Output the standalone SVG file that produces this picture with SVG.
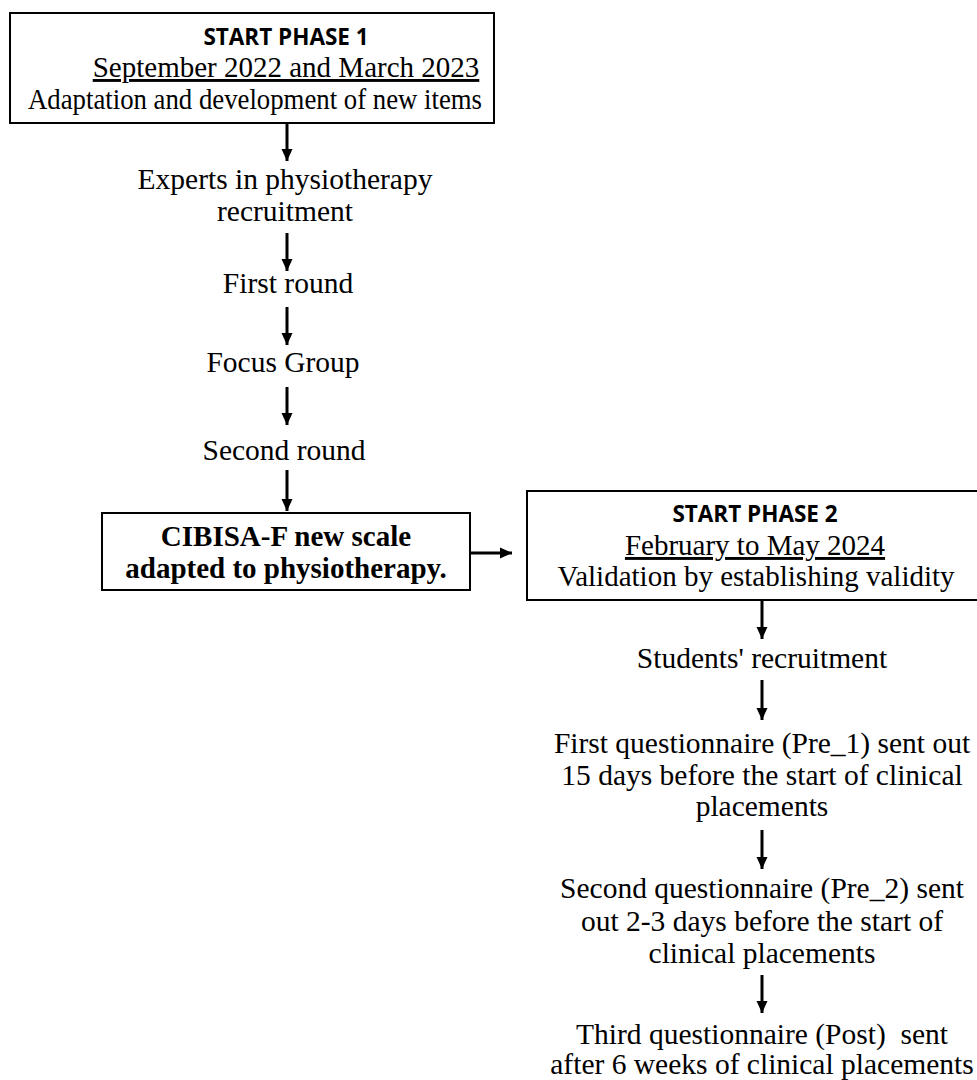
<svg xmlns="http://www.w3.org/2000/svg" width="977" height="1080" viewBox="0 0 977 1080">
<style>
.box{fill:#fff;stroke:#000;stroke-width:2}
.h{font-family:"Open Sans","Liberation Sans",sans-serif;font-weight:bold;font-size:22.5px;text-anchor:middle;fill:#000}
.t{font-family:"Liberation Serif","Times New Roman",serif;font-size:29.5px;text-anchor:middle;fill:#000}
.bt{font-family:"Liberation Serif","Times New Roman",serif;font-size:29px;text-anchor:middle;fill:#000}
.b{font-family:"Liberation Serif","Times New Roman",serif;font-size:29px;font-weight:bold;text-anchor:middle;fill:#000}
.u{text-decoration:underline}
.c{stroke:#000;stroke-width:3;fill:none}
</style>
<defs>
<marker id="ah" markerUnits="userSpaceOnUse" markerWidth="14" markerHeight="14" viewBox="0 0 14 14" refX="12" refY="7" orient="auto">
<path d="M0,1.5 L12,7 L0,12.5 Z" fill="#000"/>
</marker>
</defs>
<rect width="977" height="1080" fill="#fff"/>
<g id="phase1">
<rect class="box" x="10" y="13" width="484" height="110"/>
<text class="h" x="286" y="45">START PHASE 1</text>
<text class="bt u" x="286" y="77">September 2022 and March 2023</text>
<text class="bt" x="255" y="109" textLength="454" lengthAdjust="spacingAndGlyphs">Adaptation and development of new items</text>
</g>
<g id="experts">
<text class="t" x="285" y="189">Experts in physiotherapy</text>
<text class="t" x="285" y="221">recruitment</text>
</g>
<g id="round1"><text class="t" x="288" y="293">First round</text></g>
<g id="focus"><text class="t" x="283" y="372">Focus Group</text></g>
<g id="round2"><text class="t" x="284" y="460">Second round</text></g>
<g id="cibisa">
<rect class="box" x="102" y="513" width="368" height="77"/>
<text class="b" x="286" y="546">CIBISA-F new scale</text>
<text class="b" x="286" y="578">adapted to physiotherapy.</text>
</g>
<g id="phase2">
<rect class="box" x="527" y="491" width="452" height="109"/>
<text class="h" x="755" y="522">START PHASE 2</text>
<text class="bt u" x="755" y="555">February to May 2024</text>
<text class="bt" x="756" y="586">Validation by establishing validity</text>
</g>
<g id="students"><text class="t" x="762" y="668">Students' recruitment</text></g>
<g id="q1">
<text class="t" x="762" y="753">First questionnaire (Pre_1) sent out</text>
<text class="t" x="762" y="785">15 days before the start of clinical</text>
<text class="t" x="762" y="816">placements</text>
</g>
<g id="q2">
<text class="t" x="762" y="898">Second questionnaire (Pre_2) sent</text>
<text class="t" x="762" y="931">out 2-3 days before the start of</text>
<text class="t" x="762" y="963">clinical placements</text>
</g>
<g id="q3">
<text class="t" x="762" y="1044" xml:space="preserve">Third questionnaire (Post)  sent</text>
<text class="t" x="762" y="1074">after 6 weeks of clinical placements</text>
</g>
<g id="connectors">
<line class="c" x1="287" y1="123" x2="287" y2="161" marker-end="url(#ah)"/>
<line class="c" x1="287" y1="233" x2="287" y2="271" marker-end="url(#ah)"/>
<line class="c" x1="287" y1="307" x2="287" y2="345" marker-end="url(#ah)"/>
<line class="c" x1="287" y1="387" x2="287" y2="425" marker-end="url(#ah)"/>
<line class="c" x1="287" y1="470" x2="287" y2="511" marker-end="url(#ah)"/>
<line class="c" x1="471" y1="553" x2="512" y2="553" marker-end="url(#ah)"/>
<line class="c" x1="762" y1="600" x2="762" y2="639" marker-end="url(#ah)"/>
<line class="c" x1="762" y1="680" x2="762" y2="720" marker-end="url(#ah)"/>
<line class="c" x1="762" y1="830" x2="762" y2="869" marker-end="url(#ah)"/>
<line class="c" x1="762" y1="975" x2="762" y2="1013" marker-end="url(#ah)"/>
</g>
</svg>
